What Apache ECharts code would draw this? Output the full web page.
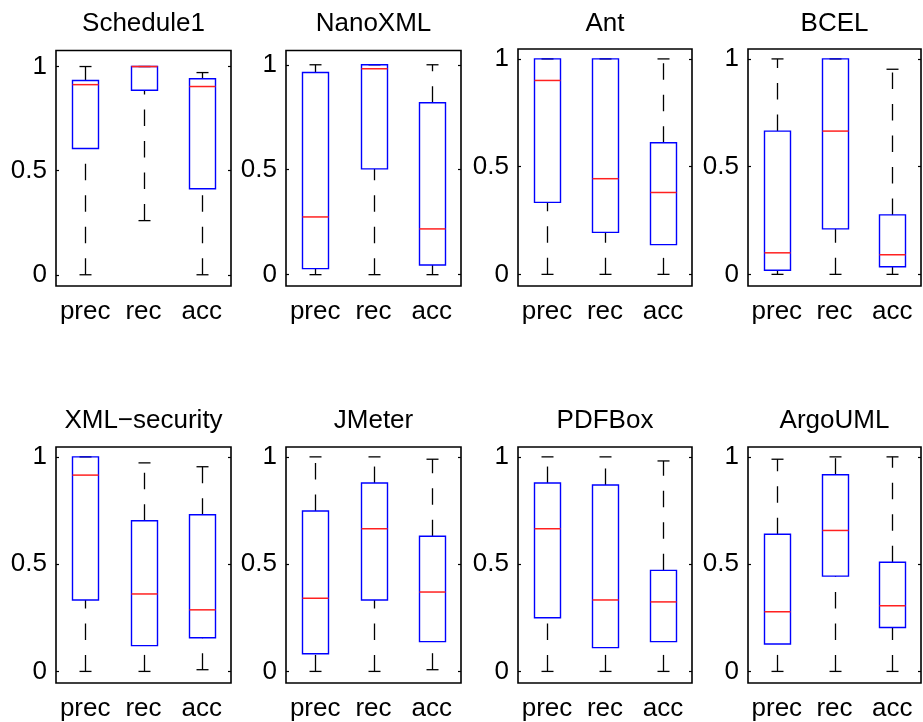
<!doctype html>
<html>
<head>
	<meta charset="UTF-8">
	<title>boxplots</title>
	<script src="https://cdn.jsdelivr.net/npm/echarts@6.0.0/dist/echarts.min.js"></script>
	<style>
		html, body {
			margin: 0;
			padding: 0;
			background: #fff;
		}
		#chart {
			width: 923px;
			height: 722px;
		}
	</style>
</head>
<body>
<div id="chart"></div>
<script>
	// each row: [lower whisker, q1, median, q3, upper whisker]
	var categories = ['prec', 'rec', 'acc'];
	var projects = ['Schedule1', 'NanoXML', 'Ant', 'BCEL', 'XML\u2212security', 'JMeter', 'PDFBox', 'ArgoUML'];
	var yTicks = [0, 0.5, 1];

	var schedule1 = [[0, 0.606, 0.913, 0.933, 1], [0.26, 0.886, 1, 1, 1], [0, 0.413, 0.904, 0.941, 0.971]];
	var nanoxml = [[0, 0.029, 0.275, 0.963, 1], [0, 0.504, 0.981, 1, 1], [0, 0.046, 0.218, 0.819, 1]];
	var ant = [[0, 0.334, 0.9, 1, 1], [0, 0.195, 0.444, 1, 1], [0, 0.138, 0.38, 0.611, 1]];
	var bcel = [[0, 0.019, 0.1, 0.665, 1], [0, 0.211, 0.665, 1, 1], [0, 0.035, 0.091, 0.276, 0.952]];
	var xmlsec = [[0, 0.333, 0.915, 1, 1], [0, 0.12, 0.361, 0.702, 0.972], [0.008, 0.157, 0.287, 0.73, 0.954]];
	var jmeter = [[0, 0.082, 0.341, 0.748, 1], [0, 0.333, 0.665, 0.878, 1], [0.008, 0.139, 0.37, 0.63, 0.989]];
	var pdfbox = [[0, 0.25, 0.665, 0.878, 1], [0, 0.111, 0.333, 0.869, 1], [0, 0.139, 0.324, 0.471, 0.981]];
	var argouml = [[0, 0.128, 0.278, 0.639, 0.989], [0, 0.444, 0.657, 0.917, 1], [0, 0.205, 0.306, 0.509, 1]];

	var yMin = [-0.054, -0.054, -0.054, -0.054, -0.054, -0.054, -0.054, -0.054];
	var yMax = [1.077, 1.068, 1.046, 1.046, 1.046, 1.046, 1.046, 1.046];

	var panels = [schedule1, nanoxml, ant, bcel, xmlsec, jmeter, pdfbox, argouml];

	// layout (px)
	var gridLeft = [56, 286, 518, 748, 56, 286, 518, 748];
	var gridWidth = [175, 175, 174, 173, 175, 175, 174, 173];
	var gridTop = [50.5, 50.5, 49, 49, 447, 447, 447, 447];
	var gridBottom = [286, 286, 286, 286, 684, 684, 684, 684];
	var titleMid = [24, 24, 24, 24, 421, 421, 421, 421];

	var FONT = '"Liberation Sans", Arial, Helvetica, sans-serif';
	var FS = 26;

	function renderBox(params, api) {
		var c = api.value(0);
		var lo = api.coord([c, api.value(1)]);
		var q1 = api.coord([c, api.value(2)]);
		var md = api.coord([c, api.value(3)]);
		var q3 = api.coord([c, api.value(4)]);
		var hi = api.coord([c, api.value(5)]);
		var cx = Math.round(lo[0]) + 0.5;
		var bw = 13, cw = 6;
		return {
			type: 'group',
			children: [
				{type: 'line', shape: {x1: cx, y1: lo[1], x2: cx, y2: q1[1]},
					style: {stroke: '#000', lineWidth: 1.3, lineDash: [16.5, 15]}},
				{type: 'line', shape: {x1: cx, y1: q3[1], x2: cx, y2: hi[1]},
					style: {stroke: '#000', lineWidth: 1.3, lineDash: [16.5, 15]}},
				{type: 'line', shape: {x1: cx - cw, y1: lo[1], x2: cx + cw, y2: lo[1]},
					style: {stroke: '#000', lineWidth: 1.3}},
				{type: 'line', shape: {x1: cx - cw, y1: hi[1], x2: cx + cw, y2: hi[1]},
					style: {stroke: '#000', lineWidth: 1.3}},
				{type: 'rect', shape: {x: cx - bw, y: q3[1], width: 2 * bw, height: q1[1] - q3[1]},
					style: {fill: 'none', stroke: '#0000ff', lineWidth: 1.4}},
				{type: 'line', shape: {x1: cx - bw, y1: md[1], x2: cx + bw, y2: md[1]},
					style: {stroke: '#ff2020', lineWidth: 1.5}}
			]
		};
	}

	var grids = [], xAxes = [], yAxes = [], series = [], texts = [];
	for (var i = 0; i < panels.length; i++) {
		grids.push({
			left: gridLeft[i],
			top: gridTop[i],
			width: gridWidth[i],
			height: gridBottom[i] - gridTop[i],
			show: true,
			borderColor: '#000',
			borderWidth: 1.6,
			backgroundColor: 'transparent'
		});
		xAxes.push({
			gridIndex: i,
			type: 'category',
			data: categories,
			boundaryGap: true,
			axisLine: {show: false},
			axisTick: {show: false},
			splitLine: {show: false},
			axisLabel: {interval: 0, hideOverlap: false, margin: 13, fontSize: FS, fontFamily: FONT, color: '#000'}
		});
		yAxes.push({
			gridIndex: i,
			type: 'value',
			min: yMin[i],
			max: yMax[i],
			axisLine: {show: false},
			splitLine: {show: false},
			axisTick: {show: true, inside: true, length: 3, customValues: yTicks, lineStyle: {color: '#000', width: 1.2}},
			axisLabel: {customValues: yTicks, margin: 9, fontSize: FS, fontFamily: FONT, color: '#000'}
		});
		yAxes.push({
			gridIndex: i,
			type: 'value',
			position: 'right',
			min: yMin[i],
			max: yMax[i],
			axisLine: {show: false},
			splitLine: {show: false},
			axisTick: {show: true, inside: true, length: 3, customValues: yTicks, lineStyle: {color: '#000', width: 1.2}},
			axisLabel: {show: false}
		});
		var rows = panels[i].map(function (s, k) {
			return [k, s[0], s[1], s[2], s[3], s[4]];
		});
		series.push({
			type: 'custom',
			xAxisIndex: i,
			yAxisIndex: 2 * i,
			renderItem: renderBox,
			encode: {x: 0, y: [1, 2, 3, 4, 5]},
			data: rows,
			silent: true
		});
		texts.push({
			type: 'text',
			x: gridLeft[i] + gridWidth[i] / 2,
			y: titleMid[i],
			style: {
				text: projects[i],
				fontSize: FS,
				fontFamily: FONT,
				fill: '#000',
				textAlign: 'center',
				textVerticalAlign: 'middle',
				align: 'center',
				verticalAlign: 'middle'
			}
		});
	}

	var chart = echarts.init(document.getElementById('chart'), null, {renderer: 'canvas'});
	chart.setOption({
		animation: false,
		backgroundColor: '#fff',
		grid: grids,
		xAxis: xAxes,
		yAxis: yAxes,
		series: series,
		graphic: texts
	});
</script>
</body>
</html>
